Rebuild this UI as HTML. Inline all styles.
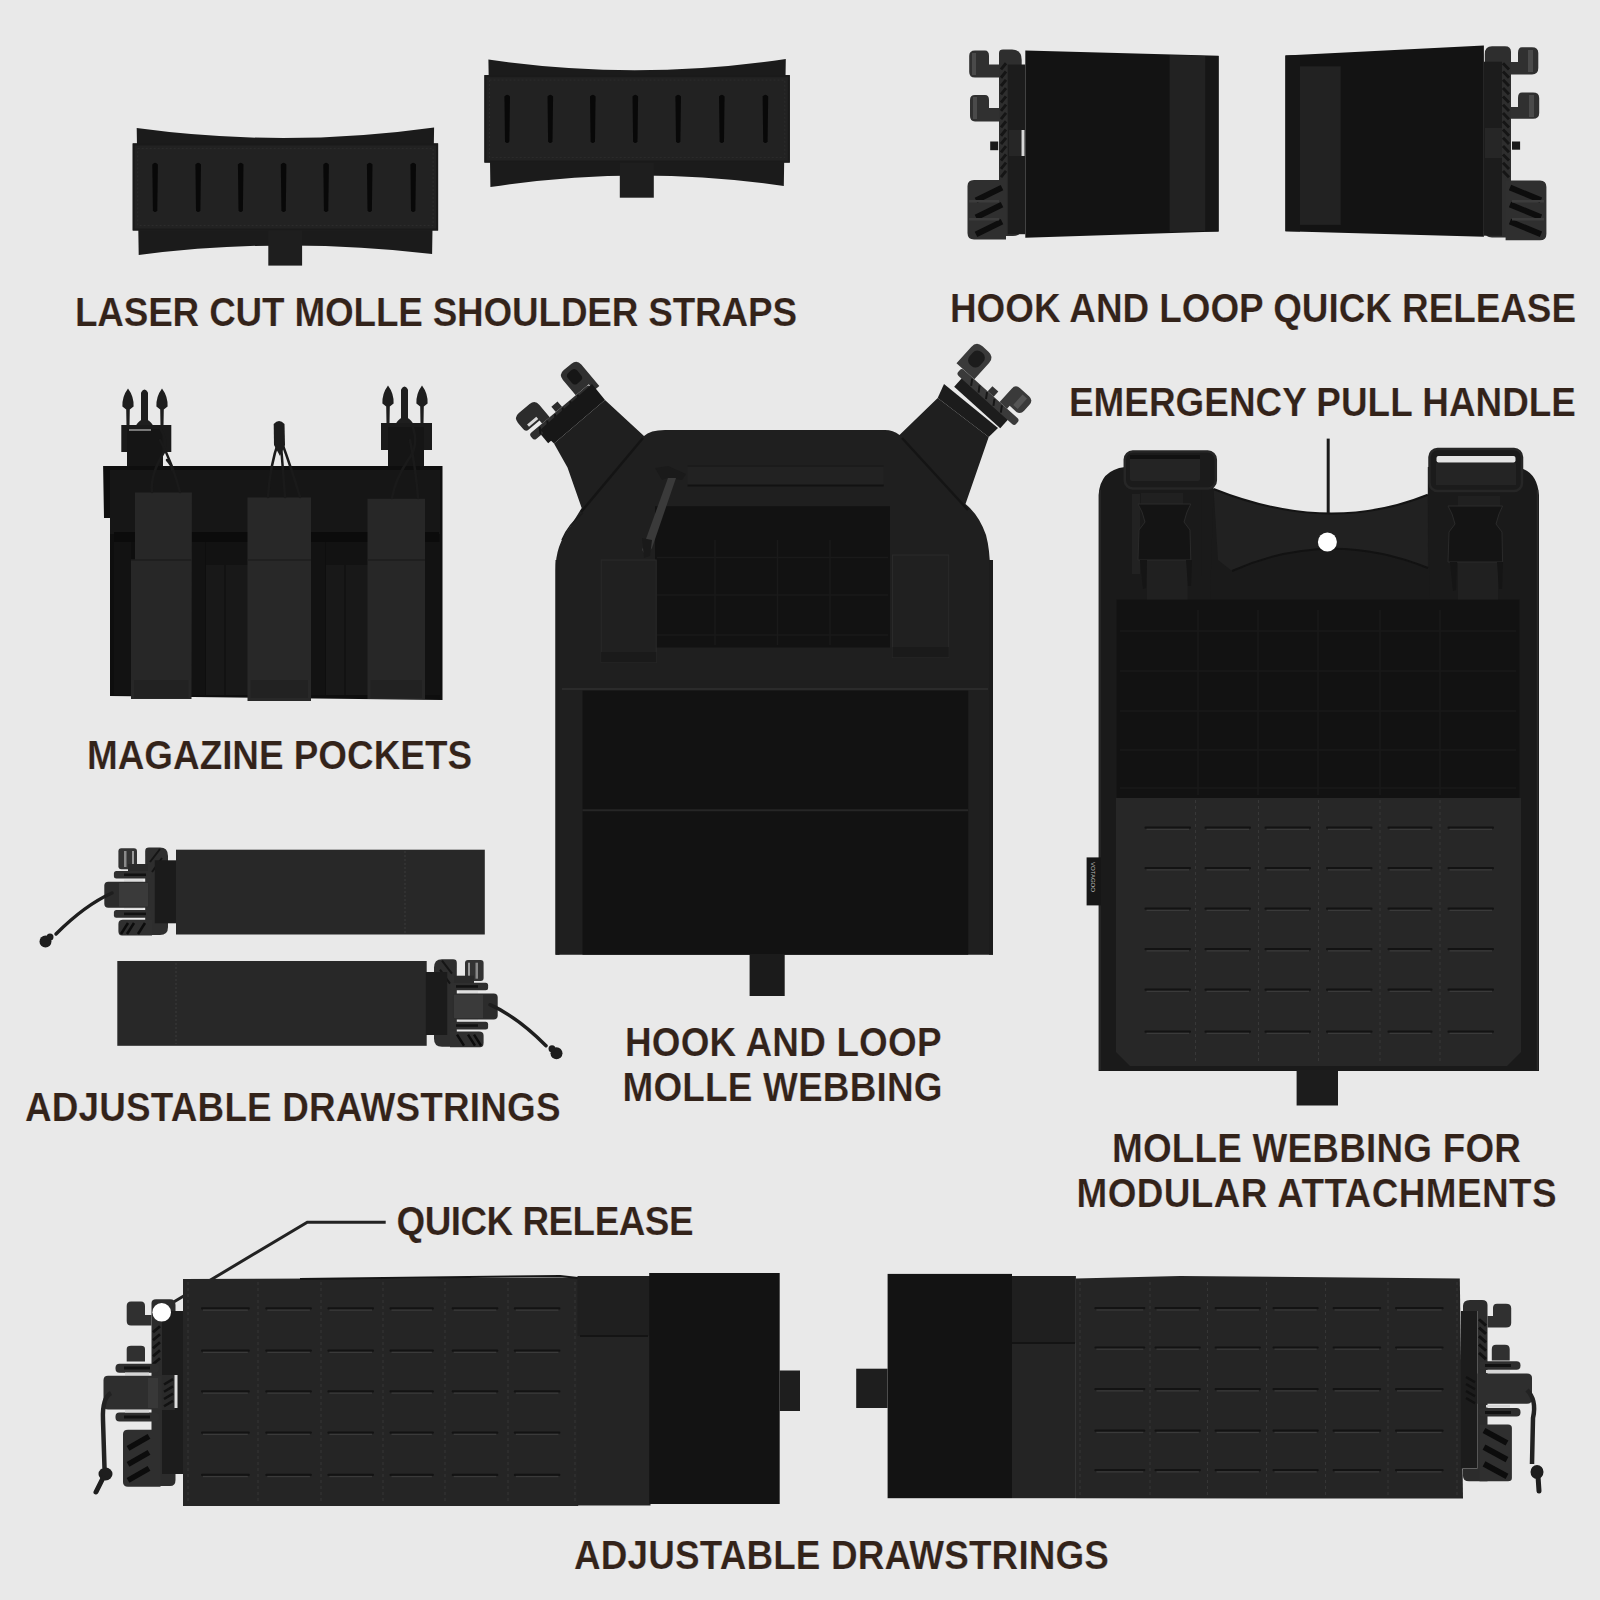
<!DOCTYPE html>
<html><head><meta charset="utf-8">
<style>
html,body{margin:0;padding:0;background:#e9e9e9;}
body{width:1600px;height:1600px;overflow:hidden;position:relative;}
svg{position:absolute;left:0;top:0;}
.t{font-family:"Liberation Sans",sans-serif;font-weight:bold;font-size:41px;fill:#33231a;stroke:#e9e9e9;stroke-width:0.2px;}
</style></head><body>
<svg width="1600" height="1600" viewBox="0 0 1600 1600">
<defs>
<g id="qrbuck">
</g>
</defs>
<path d="M136.7,128 Q285.4,148.3 434.09999999999997,127.4 L432.09999999999997,253.9 Q285.4,236.35000000000002 138.7,255 Z" fill="#1b1b1b"/>
<rect x="268.3" y="228.5" width="33.80000000000001" height="37.10000000000002" fill="#1e1e1e"/>
<rect x="132.7" y="143.4" width="305.4" height="87.1" fill="#222222"/>
<rect x="133.7" y="144.4" width="303.4" height="85.1" fill="none" stroke="#1a1a1a" stroke-width="2"/>
<rect x="137.7" y="148.4" width="295.4" height="77.1" fill="none" stroke="#2c2c2c" stroke-width="1" stroke-dasharray="2,2"/>
<path d="M152.29999999999998,164.5 Q155.1,161.0 157.9,164.5 L157.29999999999998,210.4 Q155.1,213.4 152.9,210.4 Z" fill="#080808"/>
<path d="M195.39999999999998,164.5 Q198.2,161.0 201.0,164.5 L200.39999999999998,210.4 Q198.2,213.4 196.0,210.4 Z" fill="#080808"/>
<path d="M237.89999999999998,164.5 Q240.7,161.0 243.5,164.5 L242.89999999999998,210.4 Q240.7,213.4 238.5,210.4 Z" fill="#080808"/>
<path d="M280.8,164.5 Q283.6,161.0 286.40000000000003,164.5 L285.8,210.4 Q283.6,213.4 281.40000000000003,210.4 Z" fill="#080808"/>
<path d="M323.3,164.5 Q326.1,161.0 328.90000000000003,164.5 L328.3,210.4 Q326.1,213.4 323.90000000000003,210.4 Z" fill="#080808"/>
<path d="M366.9,164.5 Q369.7,161.0 372.5,164.5 L371.9,210.4 Q369.7,213.4 367.5,210.4 Z" fill="#080808"/>
<path d="M410.4,164.5 Q413.2,161.0 416.0,164.5 L415.4,210.4 Q413.2,213.4 411.0,210.4 Z" fill="#080808"/>
<path d="M488.4,59.6 Q637.0999999999999,81.15 785.8,58.9 L783.8,186 Q637.0999999999999,164.25 490.4,187.1 Z" fill="#1b1b1b"/>
<rect x="619.8" y="160.6" width="34.0" height="37.099999999999994" fill="#1e1e1e"/>
<rect x="484.4" y="75.1" width="305.4" height="87.5" fill="#222222"/>
<rect x="485.4" y="76.1" width="303.4" height="85.5" fill="none" stroke="#1a1a1a" stroke-width="2"/>
<rect x="489.4" y="80.1" width="295.4" height="77.5" fill="none" stroke="#2c2c2c" stroke-width="1" stroke-dasharray="2,2"/>
<path d="M504.4,96.6 Q507.2,93.1 510.0,96.6 L509.4,141.5 Q507.2,144.5 505.0,141.5 Z" fill="#080808"/>
<path d="M547.5,96.6 Q550.3,93.1 553.0999999999999,96.6 L552.5,141.5 Q550.3,144.5 548.0999999999999,141.5 Z" fill="#080808"/>
<path d="M590.0,96.6 Q592.8,93.1 595.5999999999999,96.6 L595.0,141.5 Q592.8,144.5 590.5999999999999,141.5 Z" fill="#080808"/>
<path d="M632.5,96.6 Q635.3,93.1 638.0999999999999,96.6 L637.5,141.5 Q635.3,144.5 633.0999999999999,141.5 Z" fill="#080808"/>
<path d="M675.4000000000001,96.6 Q678.2,93.1 681.0,96.6 L680.4000000000001,141.5 Q678.2,144.5 676.0,141.5 Z" fill="#080808"/>
<path d="M719.0,96.6 Q721.8,93.1 724.5999999999999,96.6 L724.0,141.5 Q721.8,144.5 719.5999999999999,141.5 Z" fill="#080808"/>
<path d="M762.6,96.6 Q765.4,93.1 768.1999999999999,96.6 L767.6,141.5 Q765.4,144.5 763.1999999999999,141.5 Z" fill="#080808"/>
<g id="qrL">
<path d="M1025.3,50.5 L1218.6,55.7 L1218.6,231.6 L1025.3,237.7 Z" fill="#131313"/>
<path d="M1169.6,55 L1205.5,56 L1205.5,231 L1169.6,232 Z" fill="#222"/>
<path d="M1205.5,56 L1218.6,56 L1218.6,231.6 L1205.5,231.6 Z" fill="#161616"/>
<path d="M999,53 Q999,49.6 1003,49.6 L1012,49.6 Q1021.7,49.6 1021.7,60 L1021.7,228 Q1021.7,236 1013,236 L999,236 Z" fill="#2e2e2e"/>
<path d="M1001,69.45714285714286 L1006,63.24285714285714 M1001,77.74285714285715 L1006,71.52857142857144 M1001,86.02857142857142 L1006,79.81428571428572 M1001,94.31428571428572 L1006,88.10000000000001 M1001,102.6 L1006,96.38571428571429 M1001,110.88571428571429 L1006,104.67142857142858 M1001,119.17142857142858 L1006,112.95714285714287 M1001,127.45714285714286 L1006,121.24285714285715 M1001,135.74285714285713 L1006,129.5285714285714 M1001,144.02857142857144 L1006,137.81428571428572 M1001,152.31428571428572 L1006,146.1 M1001,160.60000000000002 L1006,154.3857142857143 M1001,168.8857142857143 L1006,162.67142857142858 M1001,177.17142857142858 L1006,170.95714285714286 " stroke="#151515" stroke-width="2.90" fill="none"/>
<rect x="1007.7" y="64.5" width="17.6" height="169.7" fill="#1c1c1c"/>
<rect x="1009" y="130" width="12" height="26" fill="#262626"/>
<rect x="1021.5" y="130" width="3" height="26" fill="#d8d8d8"/>
<path d="M969.2,56 Q969.2,50.5 975,50.5 L985,50.5 Q989,50.5 989,56 L989,64.5 L999,64.5 L999,77.6 L975,77.6 Q969.2,77.6 969.2,72 Z" fill="#303030"/>
<rect x="972" y="53" width="4" height="22" fill="#4a4a4a"/>
<path d="M970,100 Q970,95 975,95 L985,95 Q989,95 989,100 L989,108 L999,108 L999,121.4 L975,121.4 Q970,121.4 970,116 Z" fill="#303030"/>
<rect x="973" y="97" width="4" height="22" fill="#4a4a4a"/>
<rect x="990.2" y="141.5" width="8" height="8.7" fill="#1a1a1a"/>
<path d="M967.5,186 Q967.5,180 974,180 L1006,180 L1006,239.5 L974,239.5 Q967.5,239.5 967.5,233 Z" fill="#2f2f2f"/>
<path d="M976,200.3 L1002,187.55 M976,217.3 L1002,204.55 M976,234.3 L1002,221.55 " stroke="#0d0d0d" stroke-width="5.95" fill="none"/>
<rect x="969" y="200" width="30" height="2.5" fill="#3c3c3c"/><rect x="969" y="218" width="30" height="2.5" fill="#3c3c3c"/>
</g>
<g id="qrR">
<path d="M1285.4,55.4 L1483.9,45.4 L1483.9,236.7 L1285.4,231.2 Z" fill="#131313"/>
<path d="M1285.4,55.4 L1300,55 L1300,231.5 L1285.4,231.2 Z" fill="#161616"/>
<rect x="1299.9" y="66.3" width="40.8" height="158.6" fill="#222"/>
<path d="M1511,52 Q1511,46.3 1505,46.3 L1492,46.3 Q1484.8,46.3 1484.8,54 L1484.8,230 Q1484.8,237.6 1492,237.6 L1511,237.6 Z" fill="#2e2e2e"/>
<path d="M1503,63.24285714285714 L1509,69.45714285714286 M1503,71.52857142857144 L1509,77.74285714285715 M1503,79.81428571428572 L1509,86.02857142857142 M1503,88.10000000000001 L1509,94.31428571428572 M1503,96.38571428571429 L1509,102.6 M1503,104.67142857142858 L1509,110.88571428571429 M1503,112.95714285714287 L1509,119.17142857142858 M1503,121.24285714285715 L1509,127.45714285714286 M1503,129.5285714285714 L1509,135.74285714285713 M1503,137.81428571428572 L1509,144.02857142857144 M1503,146.1 L1509,152.31428571428572 M1503,154.3857142857143 L1509,160.60000000000002 M1503,162.67142857142858 L1509,168.8857142857143 M1503,170.95714285714286 L1509,177.17142857142858 " stroke="#151515" stroke-width="2.90" fill="none"/>
<rect x="1483.9" y="61.7" width="18.1" height="174" fill="#1c1c1c"/>
<rect x="1485" y="128" width="17" height="30" fill="#262626"/>
<path d="M1538.3,53 Q1538.3,47.2 1532,47.2 L1522,47.2 Q1518,47.2 1518,53 L1518,62 L1511,62 L1511,74.4 L1532,74.4 Q1538.3,74.4 1538.3,68 Z" fill="#303030"/>
<rect x="1528" y="50" width="5" height="22" fill="#4a4a4a"/>
<path d="M1539.2,98 Q1539.2,92.6 1533,92.6 L1522,92.6 Q1518,92.6 1518,98 L1518,107 L1511,107 L1511,118.8 L1533,118.8 Q1539.2,118.8 1539.2,113 Z" fill="#303030"/>
<rect x="1529" y="95" width="5" height="22" fill="#4a4a4a"/>
<rect x="1512" y="141.5" width="8.1" height="8.2" fill="#1a1a1a"/>
<path d="M1505.6,180.5 L1540,180.5 Q1546.4,180.5 1546.4,187 L1546.4,234 Q1546.4,240.3 1540,240.3 L1505.6,240.3 Z" fill="#2f2f2f"/>
<path d="M1510,187.55 L1541,200.3 M1510,204.55 L1541,217.3 M1510,221.55 L1541,234.3 " stroke="#0d0d0d" stroke-width="5.95" fill="none"/>
<rect x="1512" y="200" width="32" height="2.5" fill="#3c3c3c"/><rect x="1512" y="218" width="32" height="2.5" fill="#3c3c3c"/>
</g>
<g id="mag">
<path d="M141.0,426 L141.0,392.5 Q144.5,386.5 148.0,392.5 L148.0,426 Z" fill="#1e1e1e"/><path d="M135.5,426 Q144.5,412 153.5,426 Z" fill="#1e1e1e"/><path d="M128.0,388.5 Q134.0,396.5 133.6,406.5 L129.8,409.5 L129.5,426 L126.5,426 L126.2,409.5 L122.4,406.5 Q122.0,396.5 128.0,388.5 Z" fill="#1e1e1e"/><path d="M162.0,388.5 Q168.0,396.5 167.6,406.5 L163.8,409.5 L163.5,426 L160.5,426 L160.2,409.5 L156.4,406.5 Q156.0,396.5 162.0,388.5 Z" fill="#1e1e1e"/>
<path d="M401.0,424 L401.0,389.5 Q404.5,383.5 408.0,389.5 L408.0,424 Z" fill="#1e1e1e"/><path d="M395.5,424 Q404.5,410 413.5,424 Z" fill="#1e1e1e"/><path d="M388.0,385.5 Q394.0,393.5 393.6,403.5 L389.8,406.5 L389.5,424 L386.5,424 L386.2,406.5 L382.4,403.5 Q382.0,393.5 388.0,385.5 Z" fill="#1e1e1e"/><path d="M422.0,385.5 Q428.0,393.5 427.6,403.5 L423.8,406.5 L423.5,424 L420.5,424 L420.2,406.5 L416.4,403.5 Q416.0,393.5 422.0,385.5 Z" fill="#1e1e1e"/>
<path d="M121.3,425 L171.3,425 L171.3,452 L163,452 L163,466 L127,466 L127,452 L121.3,452 Z" fill="#1a1a1a"/>
<rect x="127" y="429" width="35.5" height="37.2" fill="#151515"/>
<rect x="129" y="429" width="22" height="2" fill="#bbb" opacity="0.6"/>
<path d="M381,423 L432,423 L432,450 L424,450 L424,466 L388,466 L388,450 L381,450 Z" fill="#1a1a1a"/>
<rect x="388" y="427" width="36" height="39" fill="#151515"/>
<path d="M103.1,466 L442.5,466 L442.5,700 L110,696 L110,518 L104,518 Z" fill="#0e0e0e"/>
<rect x="110" y="470" width="330" height="64" fill="#161616"/>
<rect x="114" y="532" width="325" height="10" fill="#0b0b0b"/>
<rect x="114" y="542" width="17" height="153" fill="#121212"/>
<rect x="191" y="542" width="14" height="153" fill="#121212"/>
<rect x="206" y="542" width="42" height="153" fill="#121212"/>
<rect x="311" y="542" width="14" height="153" fill="#121212"/>
<rect x="326" y="542" width="42" height="153" fill="#121212"/>
<rect x="425" y="542" width="15" height="153" fill="#121212"/>
<rect x="206" y="565" width="18" height="130" fill="#181818"/>
<rect x="226" y="565" width="22" height="130" fill="#181818"/>
<rect x="326" y="565" width="18" height="130" fill="#181818"/>
<rect x="346" y="565" width="22" height="130" fill="#181818"/>
<path d="M135,492.5 L191.9,492.5 L191.5,699 L131,699 L131,560 L135,560 Z" fill="#272727"/>
<path d="M247.5,497.5 L311,497.5 L311,701 L247.5,701 Z" fill="#282828"/>
<path d="M367.5,498.7 L425,498.7 L425,699 L367.5,699 Z" fill="#272727"/>
<line x1="131" y1="560" x2="191.5" y2="560" stroke="#1e1e1e" stroke-width="1.5"/>
<rect x="134" y="680" width="54.5" height="18" fill="#222"/>
<line x1="247.5" y1="560" x2="311" y2="560" stroke="#1e1e1e" stroke-width="1.5"/>
<rect x="250.5" y="680" width="57.5" height="18" fill="#222"/>
<line x1="367.5" y1="560" x2="425" y2="560" stroke="#1e1e1e" stroke-width="1.5"/>
<rect x="370.5" y="680" width="51.5" height="18" fill="#222"/>
<g stroke="#1a1a1a" stroke-width="2.5" fill="none" stroke-linecap="round">
<path d="M160,428 Q168,440 164,452 Q150,475 152,492"/><path d="M160,440 Q172,462 180,492"/><path d="M167,460 Q172,465 172,470"/>
<path d="M279,440 Q270,465 268,497"/><path d="M281,440 Q292,470 300,497"/><path d="M281,445 Q283,470 285,497"/>
<path d="M412,425 Q420,445 408,460 Q395,480 392,498"/><path d="M410,440 Q416,470 418,498"/>
</g>
<path d="M273.7,424 Q279,418 284.5,424 L285,445 L280,456 L274,445 Z" fill="#1c1c1c"/>
</g>
<g id="front">
<g transform="translate(561.5,412.5) rotate(-40)">
<rect x="-30" y="3" width="62" height="12" fill="#181818"/>
<rect x="-39" y="-4" width="78" height="8" rx="3" fill="#2e2e2e"/>
<path d="M-30,3 L-26,-3 M-20,3 L-16,-3 M-10,3 L-6,-3 M0,3 L4,-3 M10,3 L14,-3 M20,3 L24,-3" stroke="#141414" stroke-width="2"/>
<path d="M22,-4 L22,-24 Q22,-31 29,-31 L39,-31 Q46,-31 46,-24 L46,4 L39,4 L39,-4 Z" fill="#303030"/>
<rect x="27" y="-26" width="12" height="14" rx="4" fill="#161616"/>
<path d="M-12,-4 L-12,-20 Q-12,-27 -19,-27 L-33,-27 Q-40,-27 -40,-20 L-40,-12 Q-40,-8 -36,-8 L-22,-8 L-22,-4 Z" fill="#2c2c2c"/>
<rect x="-34" y="-13" width="12" height="3" fill="#d8d8d8"/>
<rect x="-4" y="-11" width="8" height="7" fill="#2a2a2a"/>
</g>
<g transform="translate(988,397) rotate(42)">
<rect x="-32" y="3" width="62" height="12" fill="#1c1c1c"/>
<rect x="-39" y="-4" width="78" height="8" rx="3" fill="#3a3a3a"/>
<path d="M-24,-3 L-20,3 M-14,-3 L-10,3 M-4,-3 L0,3 M6,-3 L10,3 M16,-3 L20,3" stroke="#161616" stroke-width="2"/>
<path d="M-46,-4 L-46,-26 Q-46,-34 -38,-34 L-30,-34 Q-22,-34 -22,-26 L-22,-4 Z" fill="#3a3a3a"/>
<rect x="-41" y="-29" width="14" height="17" rx="6" fill="#1c1c1c"/>
<path d="M12,-4 L12,-22 Q12,-28 18,-28 L30,-28 Q36,-28 36,-22 L36,-14 Q36,-8 30,-8 L22,-8 L22,-4 Z" fill="#3a3a3a"/>
<rect x="24" y="-25" width="6" height="14" fill="#555"/>
<rect x="-4" y="-11" width="8" height="7" fill="#333"/>
</g>
<path d="M555.5,954.7 L555.5,570 Q555.5,545 570,527 L581.7,508 L567.5,467.5 L554,443.5 L605,400 L644,436 Q650,430 665,430 L885,430 Q893,430 899.5,435 L937.7,398 L988.7,437 L965.5,504 Q979,515 986,535 Q990,550 990,570 L993,954.7 Z" fill="#1f1f1f"/>
<path d="M540,430 L592,384 L605,400 L554,443.5 Z" fill="#171717"/>
<path d="M944,384 L998,428 L988.7,437 L937.7,398 Z" fill="#1c1c1c"/>
<path d="M581,512 L643,438" stroke="#141414" stroke-width="2.5" fill="none"/>
<path d="M902,438 L968,510" stroke="#141414" stroke-width="2.5" fill="none"/>
<path d="M562,540 Q568,525 583,513" stroke="#1a1a1a" stroke-width="1.5" fill="none"/>
<rect x="687.5" y="465" width="196.2" height="21" fill="#222"/>
<line x1="687.5" y1="485.5" x2="883.7" y2="485.5" stroke="#121212" stroke-width="2"/>
<line x1="687.5" y1="466" x2="883.7" y2="466" stroke="#1a1a1a" stroke-width="1.5"/>
<rect x="655" y="506.2" width="235" height="141.3" fill="#121212"/>
<g stroke="#1a1a1a" stroke-width="1.5">
<line x1="657" y1="557.5" x2="888" y2="557.5"/>
<line x1="657" y1="595" x2="888" y2="595"/>
<line x1="657" y1="635" x2="888" y2="635"/>
<line x1="715" y1="540" x2="715" y2="645"/>
<line x1="777.5" y1="540" x2="777.5" y2="645"/>
<line x1="830" y1="540" x2="830" y2="645"/>
</g>
<rect x="601.2" y="560" width="55" height="102.5" fill="#202020" stroke="#2a2a2a" stroke-width="1"/>
<rect x="601.2" y="652" width="55" height="10.5" fill="#1a1a1a"/>
<rect x="892.5" y="555" width="56.2" height="102.5" fill="#202020" stroke="#2a2a2a" stroke-width="1"/>
<rect x="892.5" y="647" width="56.2" height="10.5" fill="#1a1a1a"/>
<path d="M655,468 L668,466 L686,474 L682,480 L668,478 L662,480 Z" fill="#1a1a1a"/>
<path d="M668,478 L676,478 L652,548 L646,556 L642,550 Z" fill="#3a3a3a"/>
<path d="M642,538 L652,540 L650,556 L644,558 Z" fill="#1a1a1a"/>
<line x1="562" y1="689" x2="988" y2="689" stroke="#303030" stroke-width="1.5"/>
<rect x="582.5" y="690.7" width="385.7" height="264" fill="#121212"/>
<line x1="582.5" y1="810.3" x2="968.2" y2="810.3" stroke="#262626" stroke-width="2"/>
<rect x="555.5" y="560" width="4" height="394.7" fill="#1c1c1c"/>
<rect x="989" y="560" width="4" height="394.7" fill="#1c1c1c"/>
<rect x="749.6" y="954" width="35.1" height="42" fill="#1b1b1b"/>
</g>
<g id="back">
<path d="M1098.6,1071 L1098.6,495 Q1100,470 1125,467 L1213.6,467 L1213.6,489 Q1328.6,535 1427.8,494.7 L1427.8,467 L1516,467 Q1537,470 1539,495 L1539,1071 Z" fill="#1a1a1a"/>
<path d="M1213.6,489 Q1328.6,535 1427.8,494.7 L1430,600 L1210,600 Z" fill="#1a1a1a"/>
<path d="M1213.6,489 Q1328.6,535 1427.8,494.7 L1428,568 Q1328.6,528 1232,571 L1218,560 Z" fill="#212121"/>
<path d="M1232,571 Q1328.6,528 1428,568" stroke="#121212" stroke-width="2" fill="none"/>
<path d="M1213.6,489 Q1328.6,535 1427.8,494.7" stroke="#141414" stroke-width="2" fill="none"/>
<rect x="1127" y="490" width="74.4" height="86" fill="#1a1a1a"/>
<rect x="1132" y="494" width="8" height="80" fill="#222"/>
<rect x="1124.8" y="451.5" width="91" height="37" rx="8" fill="#1b1b1b" stroke="#262626" stroke-width="2.5"/>
<rect x="1130" y="455" width="70" height="26" rx="2" fill="#242424"/>
<rect x="1130" y="455" width="70" height="4" fill="#111"/>
<rect x="1141" y="493" width="42" height="14" fill="#202020"/>
<rect x="1147" y="558" width="40.6" height="44" fill="#202020"/>
<path d="M1138,504 L1190.8,504 L1187,512 L1184,522 L1190,530 L1190.8,560 L1138,560 L1139,530 L1145,522 L1142,512 Z" fill="#141414" stroke="#2a2a2a" stroke-width="1"/>
<path d="M1140,560 L1147,560 L1146,588 L1143,589 Z M1186,560 L1192,560 L1191,586 L1188,586 Z" fill="#151515"/>
<rect x="1440" y="494" width="72" height="86" fill="#1a1a1a"/>
<rect x="1429.5" y="449" width="92.5" height="42" rx="8" fill="#1b1b1b" stroke="#262626" stroke-width="2.5"/>
<rect x="1436.5" y="455.9" width="79" height="6.5" rx="2" fill="#e4e4e4"/>
<rect x="1436" y="463" width="80" height="22" fill="#242424"/>
<rect x="1458" y="496" width="42" height="14" fill="#202020"/>
<rect x="1458" y="560" width="40" height="40" fill="#202020"/>
<path d="M1448,506 L1502.6,506 L1499,514 L1496,524 L1502,532 L1502.6,562 L1448,562 L1449,532 L1455,524 L1452,514 Z" fill="#141414" stroke="#2a2a2a" stroke-width="1"/>
<path d="M1450,562 L1457,562 L1456,590 L1453,591 Z M1497,562 L1503,562 L1502,589 L1499,589 Z" fill="#151515"/>
<line x1="1328.2" y1="438.6" x2="1328.2" y2="513.4" stroke="#1a1a1a" stroke-width="3"/>
<circle cx="1327.4" cy="542" r="9.5" fill="#ffffff"/>
<rect x="1116.5" y="599.6" width="403" height="198.6" fill="#121212"/>
<g stroke="#1a1a1a" stroke-width="1.5" fill="none">
<line x1="1120" y1="631" x2="1516" y2="631"/>
<line x1="1120" y1="671" x2="1516" y2="671"/>
<line x1="1120" y1="711" x2="1516" y2="711"/>
<line x1="1120" y1="750" x2="1516" y2="750"/>
<line x1="1120" y1="788" x2="1516" y2="788"/>
<line x1="1198" y1="610" x2="1198" y2="795"/>
<line x1="1258" y1="610" x2="1258" y2="795"/>
<line x1="1318" y1="610" x2="1318" y2="795"/>
<line x1="1380" y1="610" x2="1380" y2="795"/>
<line x1="1440" y1="610" x2="1440" y2="795"/>
</g>
<path d="M1116,798 L1521,798 L1521,1052 L1507,1066 L1130,1066 L1116,1052 Z" fill="#272727"/>
<g stroke="#383838" stroke-width="1" stroke-dasharray="3,3">
<line x1="1195.5" y1="800" x2="1195.5" y2="1064"/>
<line x1="1258.5" y1="800" x2="1258.5" y2="1064"/>
<line x1="1318.5" y1="800" x2="1318.5" y2="1064"/>
<line x1="1380" y1="800" x2="1380" y2="1064"/>
<line x1="1440" y1="800" x2="1440" y2="1064"/>
</g>
<g fill="#131313">
<rect x="1144.5" y="826.5" width="46.5" height="2.2" rx="1"/>
<rect x="1204.5" y="826.5" width="46.5" height="2.2" rx="1"/>
<rect x="1264.5" y="826.5" width="46.5" height="2.2" rx="1"/>
<rect x="1326" y="826.5" width="46.5" height="2.2" rx="1"/>
<rect x="1387.5" y="826.5" width="45.0" height="2.2" rx="1"/>
<rect x="1447.5" y="826.5" width="46.5" height="2.2" rx="1"/>
<rect x="1144.5" y="867.0" width="46.5" height="2.2" rx="1"/>
<rect x="1204.5" y="867.0" width="46.5" height="2.2" rx="1"/>
<rect x="1264.5" y="867.0" width="46.5" height="2.2" rx="1"/>
<rect x="1326" y="867.0" width="46.5" height="2.2" rx="1"/>
<rect x="1387.5" y="867.0" width="45.0" height="2.2" rx="1"/>
<rect x="1447.5" y="867.0" width="46.5" height="2.2" rx="1"/>
<rect x="1144.5" y="907.5" width="46.5" height="2.2" rx="1"/>
<rect x="1204.5" y="907.5" width="46.5" height="2.2" rx="1"/>
<rect x="1264.5" y="907.5" width="46.5" height="2.2" rx="1"/>
<rect x="1326" y="907.5" width="46.5" height="2.2" rx="1"/>
<rect x="1387.5" y="907.5" width="45.0" height="2.2" rx="1"/>
<rect x="1447.5" y="907.5" width="46.5" height="2.2" rx="1"/>
<rect x="1144.5" y="948.0" width="46.5" height="2.2" rx="1"/>
<rect x="1204.5" y="948.0" width="46.5" height="2.2" rx="1"/>
<rect x="1264.5" y="948.0" width="46.5" height="2.2" rx="1"/>
<rect x="1326" y="948.0" width="46.5" height="2.2" rx="1"/>
<rect x="1387.5" y="948.0" width="45.0" height="2.2" rx="1"/>
<rect x="1447.5" y="948.0" width="46.5" height="2.2" rx="1"/>
<rect x="1144.5" y="988.5" width="46.5" height="2.2" rx="1"/>
<rect x="1204.5" y="988.5" width="46.5" height="2.2" rx="1"/>
<rect x="1264.5" y="988.5" width="46.5" height="2.2" rx="1"/>
<rect x="1326" y="988.5" width="46.5" height="2.2" rx="1"/>
<rect x="1387.5" y="988.5" width="45.0" height="2.2" rx="1"/>
<rect x="1447.5" y="988.5" width="46.5" height="2.2" rx="1"/>
<rect x="1144.5" y="1030.5" width="46.5" height="2.2" rx="1"/>
<rect x="1204.5" y="1030.5" width="46.5" height="2.2" rx="1"/>
<rect x="1264.5" y="1030.5" width="46.5" height="2.2" rx="1"/>
<rect x="1326" y="1030.5" width="46.5" height="2.2" rx="1"/>
<rect x="1387.5" y="1030.5" width="45.0" height="2.2" rx="1"/>
<rect x="1447.5" y="1030.5" width="46.5" height="2.2" rx="1"/>
</g>
<g fill="#3a3a3a">
<rect x="1146.5" y="828.7" width="42.5" height="1.3"/>
<rect x="1206.5" y="828.7" width="42.5" height="1.3"/>
<rect x="1266.5" y="828.7" width="42.5" height="1.3"/>
<rect x="1328" y="828.7" width="42.5" height="1.3"/>
<rect x="1389.5" y="828.7" width="41.0" height="1.3"/>
<rect x="1449.5" y="828.7" width="42.5" height="1.3"/>
<rect x="1146.5" y="869.2" width="42.5" height="1.3"/>
<rect x="1206.5" y="869.2" width="42.5" height="1.3"/>
<rect x="1266.5" y="869.2" width="42.5" height="1.3"/>
<rect x="1328" y="869.2" width="42.5" height="1.3"/>
<rect x="1389.5" y="869.2" width="41.0" height="1.3"/>
<rect x="1449.5" y="869.2" width="42.5" height="1.3"/>
<rect x="1146.5" y="909.7" width="42.5" height="1.3"/>
<rect x="1206.5" y="909.7" width="42.5" height="1.3"/>
<rect x="1266.5" y="909.7" width="42.5" height="1.3"/>
<rect x="1328" y="909.7" width="42.5" height="1.3"/>
<rect x="1389.5" y="909.7" width="41.0" height="1.3"/>
<rect x="1449.5" y="909.7" width="42.5" height="1.3"/>
<rect x="1146.5" y="950.2" width="42.5" height="1.3"/>
<rect x="1206.5" y="950.2" width="42.5" height="1.3"/>
<rect x="1266.5" y="950.2" width="42.5" height="1.3"/>
<rect x="1328" y="950.2" width="42.5" height="1.3"/>
<rect x="1389.5" y="950.2" width="41.0" height="1.3"/>
<rect x="1449.5" y="950.2" width="42.5" height="1.3"/>
<rect x="1146.5" y="990.7" width="42.5" height="1.3"/>
<rect x="1206.5" y="990.7" width="42.5" height="1.3"/>
<rect x="1266.5" y="990.7" width="42.5" height="1.3"/>
<rect x="1328" y="990.7" width="42.5" height="1.3"/>
<rect x="1389.5" y="990.7" width="41.0" height="1.3"/>
<rect x="1449.5" y="990.7" width="42.5" height="1.3"/>
<rect x="1146.5" y="1032.7" width="42.5" height="1.3"/>
<rect x="1206.5" y="1032.7" width="42.5" height="1.3"/>
<rect x="1266.5" y="1032.7" width="42.5" height="1.3"/>
<rect x="1328" y="1032.7" width="42.5" height="1.3"/>
<rect x="1389.5" y="1032.7" width="41.0" height="1.3"/>
<rect x="1449.5" y="1032.7" width="42.5" height="1.3"/>
</g>
<line x1="1100" y1="490" x2="1100" y2="1070" stroke="#2a2a2a" stroke-width="1.5"/>
<line x1="1537.5" y1="490" x2="1537.5" y2="1070" stroke="#2a2a2a" stroke-width="1.5"/>
<rect x="1296.6" y="1070" width="41.4" height="35.5" fill="#1c1c1c"/>
<rect x="1086.6" y="857.4" width="14.4" height="48" fill="#161616"/>
<text x="0" y="0" transform="translate(1091,862) rotate(90)" font-family="Liberation Sans" font-size="6" fill="#bbb">VOTAGOO</text>
</g>
<g id="draw">
<g id="dbA">
<path d="M145.2,851 Q145.2,847.6 149,847.6 L160,847.6 Q168,847.6 168,856 L168,927 Q168,935 160,935 L145.2,935 Z" fill="#2e2e2e"/>
<path d="M150,862 L160,849 M152,872 L162,858" stroke="#151515" stroke-width="2"/>
<rect x="154.8" y="860.3" width="21.4" height="63" fill="#1b1b1b"/>
<rect x="118.4" y="848.2" width="18.6" height="21" rx="3" fill="#333"/>
<rect x="124" y="851" width="2.5" height="16" fill="#8a8a8a"/><rect x="132" y="851" width="2" height="16" fill="#9a9a9a"/>
<rect x="128" y="864" width="20" height="8" fill="#2a2a2a"/>
<rect x="113.9" y="871" width="38" height="7.5" rx="2.5" fill="#2f2f2f"/>
<rect x="124" y="873.5" width="22" height="2.5" fill="#111"/>
<rect x="113.9" y="910.1" width="38" height="7.6" rx="2.5" fill="#2f2f2f"/>
<rect x="124" y="912.6" width="22" height="2.5" fill="#111"/>
<rect x="124" y="879.5" width="19" height="2.5" fill="#dcdcdc"/>
<rect x="124" y="906.5" width="19" height="2.5" fill="#dcdcdc"/>
<rect x="104.3" y="881.8" width="45" height="25.9" rx="4" fill="#2c2c2c"/>
<rect x="119" y="883" width="29" height="23.5" fill="#3a3a3a"/>
<path d="M118.4,924 Q118.4,919.8 123,919.8 L152,919.8 L152,935.6 L122,935.6 Q118.4,935.6 118.4,931 Z" fill="#303030"/>
<path d="M121,934 L128,923 M127,934 L134,923 M138,934 L145,923" stroke="#0c0c0c" stroke-width="2.5"/>
<path d="M112,893 Q85,905 56,934" stroke="#1e1e1e" stroke-width="3.5" fill="none" stroke-linecap="round"/>
<circle cx="45.5" cy="941.5" r="6" fill="#1e1e1e"/><circle cx="50" cy="937" r="3.5" fill="#1e1e1e"/>
</g>
<rect x="176" y="849.7" width="308.8" height="84.8" fill="#282828"/>
<line x1="405" y1="851" x2="405" y2="933" stroke="#3a3a3a" stroke-width="1" stroke-dasharray="2,2"/>
<rect x="117.3" y="961" width="309.4" height="84.8" fill="#282828"/>
<line x1="176" y1="963" x2="176" y2="1044" stroke="#3a3a3a" stroke-width="1" stroke-dasharray="2,2"/>
<use href="#dbA" transform="translate(602,111.7) scale(-1,1)"/>
</g>
<polyline points="172,1303 307.3,1222.2 385.7,1222.2" fill="none" stroke="#222" stroke-width="3"/>
<g id="cumL">
<rect x="162" y="1311" width="21" height="163" fill="#1c1c1c"/>
<path d="M151.5,1303 Q151.5,1299.2 156,1299.2 L170,1299.2 Q175.5,1299.2 175.5,1305 L175.5,1311 L162,1311 L162,1474 L175.5,1474 L175.5,1480 Q175.5,1486 170,1486 L151.5,1486 Z" fill="#2c2c2c"/>
<path d="M153,1332.2 L160,1326.2 M153,1340.2 L160,1334.2 M153,1348.2 L160,1342.2 M153,1356.2 L160,1350.2 M153,1364.2 L160,1358.2 " stroke="#111" stroke-width="2.80" fill="none"/>
<path d="M163,1384.75 L174,1379.125 M163,1392.25 L174,1386.625 M163,1399.75 L174,1394.125 M163,1407.25 L174,1401.625 " stroke="#111" stroke-width="2.62" fill="none"/>
<rect x="162" y="1375" width="13" height="35" fill="#2a2a2a"/>
<path d="M164,1384.525 L173,1379.0875 M164,1391.775 L173,1386.3375 M164,1399.025 L173,1393.5875 M164,1406.275 L173,1400.8375 " stroke="#121212" stroke-width="2.54" fill="none"/>
<rect x="174.5" y="1375" width="3" height="33" fill="#dedede"/>
<path d="M126.7,1306 Q126.7,1301.5 131,1301.5 L141,1301.5 Q145,1301.5 145,1306 L145,1315 L151.5,1315 L151.5,1325.5 L131,1325.5 Q126.7,1325.5 126.7,1321 Z" fill="#303030"/>
<path d="M126.7,1349 Q126.7,1345.7 131,1345.7 L141,1345.7 Q145,1345.7 145,1349 L145,1361.5 L126.7,1361.5 Z" fill="#303030"/>
<rect x="115.5" y="1363.7" width="43.5" height="9" rx="4" fill="#2e2e2e"/>
<rect x="124" y="1366.5" width="26" height="3" fill="#111"/>
<rect x="115.5" y="1412.5" width="43.5" height="9" rx="4" fill="#2e2e2e"/>
<rect x="124" y="1415.5" width="26" height="3" fill="#111"/>
<rect x="125" y="1372.5" width="24" height="3" fill="#d5d5d5"/><rect x="125" y="1410" width="24" height="2.5" fill="#d5d5d5"/>
<path d="M103.5,1380 Q103.5,1375.7 108,1375.7 L160.5,1375.7 L160.5,1409.5 L108,1409.5 Q103.5,1409.5 103.5,1405 Z" fill="#2e2e2e"/>
<rect x="148" y="1378" width="10" height="30" fill="#383838"/>
<path d="M123,1434 Q123,1429.7 128,1429.7 L160.5,1429.7 L160.5,1486.7 L128,1486.7 Q123,1486.7 123,1482 Z" fill="#2f2f2f"/>
<path d="M128,1448.4 L149,1436.4 M128,1464.4 L149,1452.4 M128,1480.4 L149,1468.4 " stroke="#0c0c0c" stroke-width="5.60" fill="none"/>
<path d="M111,1393 Q102,1398 103,1420 L104.5,1468" stroke="#222" stroke-width="4.5" fill="none"/>
<ellipse cx="105.5" cy="1474" rx="7" ry="6.5" fill="#1e1e1e"/>
<path d="M103,1478 L96,1492" stroke="#1e1e1e" stroke-width="5" fill="none" stroke-linecap="round"/>
<path d="M183,1279 L568,1277.5 L578.2,1278 L578.2,1506 L183,1506 Z" fill="#252525"/>
<path d="M300,1279 L560,1276 L578,1278" stroke="#151515" stroke-width="2" fill="none"/>
<g stroke="#363636" stroke-width="1" stroke-dasharray="3,3">
<line x1="258" y1="1282" x2="258" y2="1503"/>
<line x1="321" y1="1282" x2="321" y2="1503"/>
<line x1="383" y1="1282" x2="383" y2="1503"/>
<line x1="445" y1="1282" x2="445" y2="1503"/>
<line x1="508" y1="1282" x2="508" y2="1503"/>
<line x1="188" y1="1282" x2="188" y2="1503"/><line x1="575" y1="1282" x2="575" y2="1503"/>
</g>
<g fill="#131313">
<rect x="201" y="1307.3" width="48.80000000000001" height="2.2" rx="1"/>
<rect x="265.3" y="1307.3" width="46.599999999999966" height="2.2" rx="1"/>
<rect x="327.4" y="1307.3" width="46.60000000000002" height="2.2" rx="1"/>
<rect x="389.5" y="1307.3" width="44.39999999999998" height="2.2" rx="1"/>
<rect x="451.7" y="1307.3" width="46.60000000000002" height="2.2" rx="1"/>
<rect x="513.8" y="1307.3" width="46.60000000000002" height="2.2" rx="1"/>
<rect x="201" y="1349.5" width="48.80000000000001" height="2.2" rx="1"/>
<rect x="265.3" y="1349.5" width="46.599999999999966" height="2.2" rx="1"/>
<rect x="327.4" y="1349.5" width="46.60000000000002" height="2.2" rx="1"/>
<rect x="389.5" y="1349.5" width="44.39999999999998" height="2.2" rx="1"/>
<rect x="451.7" y="1349.5" width="46.60000000000002" height="2.2" rx="1"/>
<rect x="513.8" y="1349.5" width="46.60000000000002" height="2.2" rx="1"/>
<rect x="201" y="1390.3" width="48.80000000000001" height="2.2" rx="1"/>
<rect x="265.3" y="1390.3" width="46.599999999999966" height="2.2" rx="1"/>
<rect x="327.4" y="1390.3" width="46.60000000000002" height="2.2" rx="1"/>
<rect x="389.5" y="1390.3" width="44.39999999999998" height="2.2" rx="1"/>
<rect x="451.7" y="1390.3" width="46.60000000000002" height="2.2" rx="1"/>
<rect x="513.8" y="1390.3" width="46.60000000000002" height="2.2" rx="1"/>
<rect x="201" y="1431.5" width="48.80000000000001" height="2.2" rx="1"/>
<rect x="265.3" y="1431.5" width="46.599999999999966" height="2.2" rx="1"/>
<rect x="327.4" y="1431.5" width="46.60000000000002" height="2.2" rx="1"/>
<rect x="389.5" y="1431.5" width="44.39999999999998" height="2.2" rx="1"/>
<rect x="451.7" y="1431.5" width="46.60000000000002" height="2.2" rx="1"/>
<rect x="513.8" y="1431.5" width="46.60000000000002" height="2.2" rx="1"/>
<rect x="201" y="1473.7" width="48.80000000000001" height="2.2" rx="1"/>
<rect x="265.3" y="1473.7" width="46.599999999999966" height="2.2" rx="1"/>
<rect x="327.4" y="1473.7" width="46.60000000000002" height="2.2" rx="1"/>
<rect x="389.5" y="1473.7" width="44.39999999999998" height="2.2" rx="1"/>
<rect x="451.7" y="1473.7" width="46.60000000000002" height="2.2" rx="1"/>
<rect x="513.8" y="1473.7" width="46.60000000000002" height="2.2" rx="1"/>
</g>
<g fill="#3a3a3a">
<rect x="203" y="1309.5" width="44.80000000000001" height="1.3"/>
<rect x="267.3" y="1309.5" width="42.599999999999966" height="1.3"/>
<rect x="329.4" y="1309.5" width="42.60000000000002" height="1.3"/>
<rect x="391.5" y="1309.5" width="40.39999999999998" height="1.3"/>
<rect x="453.7" y="1309.5" width="42.60000000000002" height="1.3"/>
<rect x="515.8" y="1309.5" width="42.60000000000002" height="1.3"/>
<rect x="203" y="1351.7" width="44.80000000000001" height="1.3"/>
<rect x="267.3" y="1351.7" width="42.599999999999966" height="1.3"/>
<rect x="329.4" y="1351.7" width="42.60000000000002" height="1.3"/>
<rect x="391.5" y="1351.7" width="40.39999999999998" height="1.3"/>
<rect x="453.7" y="1351.7" width="42.60000000000002" height="1.3"/>
<rect x="515.8" y="1351.7" width="42.60000000000002" height="1.3"/>
<rect x="203" y="1392.5" width="44.80000000000001" height="1.3"/>
<rect x="267.3" y="1392.5" width="42.599999999999966" height="1.3"/>
<rect x="329.4" y="1392.5" width="42.60000000000002" height="1.3"/>
<rect x="391.5" y="1392.5" width="40.39999999999998" height="1.3"/>
<rect x="453.7" y="1392.5" width="42.60000000000002" height="1.3"/>
<rect x="515.8" y="1392.5" width="42.60000000000002" height="1.3"/>
<rect x="203" y="1433.7" width="44.80000000000001" height="1.3"/>
<rect x="267.3" y="1433.7" width="42.599999999999966" height="1.3"/>
<rect x="329.4" y="1433.7" width="42.60000000000002" height="1.3"/>
<rect x="391.5" y="1433.7" width="40.39999999999998" height="1.3"/>
<rect x="453.7" y="1433.7" width="42.60000000000002" height="1.3"/>
<rect x="515.8" y="1433.7" width="42.60000000000002" height="1.3"/>
<rect x="203" y="1475.9" width="44.80000000000001" height="1.3"/>
<rect x="267.3" y="1475.9" width="42.599999999999966" height="1.3"/>
<rect x="329.4" y="1475.9" width="42.60000000000002" height="1.3"/>
<rect x="391.5" y="1475.9" width="40.39999999999998" height="1.3"/>
<rect x="453.7" y="1475.9" width="42.60000000000002" height="1.3"/>
<rect x="515.8" y="1475.9" width="42.60000000000002" height="1.3"/>
</g>
<rect x="577.5" y="1276" width="73" height="60" fill="#1f1f1f"/>
<rect x="577.5" y="1336" width="73" height="169.5" fill="#242424"/>
<line x1="580" y1="1336" x2="648" y2="1336" stroke="#141414" stroke-width="2"/>
<rect x="649.2" y="1273" width="130.5" height="231" fill="#131313"/>
<rect x="779.7" y="1370.5" width="20.3" height="40.5" fill="#1e1e1e"/>
<circle cx="161.7" cy="1312.3" r="9.3" fill="#ffffff"/>
</g>
<g id="cumR">
<rect x="887.6" y="1273.9" width="124.4" height="224.3" fill="#131313"/>
<rect x="856.2" y="1368.7" width="31.4" height="39.3" fill="#1e1e1e"/>
<rect x="1012" y="1276" width="63.9" height="67" fill="#1f1f1f"/>
<rect x="1012" y="1343" width="63.9" height="155.2" fill="#242424"/>
<line x1="1012" y1="1343" x2="1075" y2="1343" stroke="#141414" stroke-width="2"/>
<path d="M1075.9,1278.5 L1180,1276 L1459.8,1278.5 L1463,1498.6 L1075.9,1498.2 Z" fill="#252525"/>
<g stroke="#363636" stroke-width="1" stroke-dasharray="3,3">
<line x1="1150" y1="1282" x2="1150" y2="1496"/>
<line x1="1207.5" y1="1282" x2="1207.5" y2="1496"/>
<line x1="1266.5" y1="1282" x2="1266.5" y2="1496"/>
<line x1="1325.5" y1="1282" x2="1325.5" y2="1496"/>
<line x1="1388" y1="1282" x2="1388" y2="1496"/>
<line x1="1080" y1="1282" x2="1080" y2="1496"/><line x1="1457" y1="1282" x2="1457" y2="1496"/>
</g>
<g fill="#131313">
<rect x="1094.4" y="1307.1" width="50.899999999999864" height="2.2" rx="1"/>
<rect x="1154.5" y="1307.1" width="46.299999999999955" height="2.2" rx="1"/>
<rect x="1214.6" y="1307.1" width="46.30000000000018" height="2.2" rx="1"/>
<rect x="1272.5" y="1307.1" width="46.200000000000045" height="2.2" rx="1"/>
<rect x="1332.6" y="1307.1" width="48.600000000000136" height="2.2" rx="1"/>
<rect x="1395" y="1307.1" width="48.59999999999991" height="2.2" rx="1"/>
<rect x="1094.4" y="1346.4" width="50.899999999999864" height="2.2" rx="1"/>
<rect x="1154.5" y="1346.4" width="46.299999999999955" height="2.2" rx="1"/>
<rect x="1214.6" y="1346.4" width="46.30000000000018" height="2.2" rx="1"/>
<rect x="1272.5" y="1346.4" width="46.200000000000045" height="2.2" rx="1"/>
<rect x="1332.6" y="1346.4" width="48.600000000000136" height="2.2" rx="1"/>
<rect x="1395" y="1346.4" width="48.59999999999991" height="2.2" rx="1"/>
<rect x="1094.4" y="1388.0" width="50.899999999999864" height="2.2" rx="1"/>
<rect x="1154.5" y="1388.0" width="46.299999999999955" height="2.2" rx="1"/>
<rect x="1214.6" y="1388.0" width="46.30000000000018" height="2.2" rx="1"/>
<rect x="1272.5" y="1388.0" width="46.200000000000045" height="2.2" rx="1"/>
<rect x="1332.6" y="1388.0" width="48.600000000000136" height="2.2" rx="1"/>
<rect x="1395" y="1388.0" width="48.59999999999991" height="2.2" rx="1"/>
<rect x="1094.4" y="1429.6" width="50.899999999999864" height="2.2" rx="1"/>
<rect x="1154.5" y="1429.6" width="46.299999999999955" height="2.2" rx="1"/>
<rect x="1214.6" y="1429.6" width="46.30000000000018" height="2.2" rx="1"/>
<rect x="1272.5" y="1429.6" width="46.200000000000045" height="2.2" rx="1"/>
<rect x="1332.6" y="1429.6" width="48.600000000000136" height="2.2" rx="1"/>
<rect x="1395" y="1429.6" width="48.59999999999991" height="2.2" rx="1"/>
<rect x="1094.4" y="1469.0" width="50.899999999999864" height="2.2" rx="1"/>
<rect x="1154.5" y="1469.0" width="46.299999999999955" height="2.2" rx="1"/>
<rect x="1214.6" y="1469.0" width="46.30000000000018" height="2.2" rx="1"/>
<rect x="1272.5" y="1469.0" width="46.200000000000045" height="2.2" rx="1"/>
<rect x="1332.6" y="1469.0" width="48.600000000000136" height="2.2" rx="1"/>
<rect x="1395" y="1469.0" width="48.59999999999991" height="2.2" rx="1"/>
</g>
<g fill="#3a3a3a">
<rect x="1096.4" y="1309.3" width="46.899999999999864" height="1.3"/>
<rect x="1156.5" y="1309.3" width="42.299999999999955" height="1.3"/>
<rect x="1216.6" y="1309.3" width="42.30000000000018" height="1.3"/>
<rect x="1274.5" y="1309.3" width="42.200000000000045" height="1.3"/>
<rect x="1334.6" y="1309.3" width="44.600000000000136" height="1.3"/>
<rect x="1397" y="1309.3" width="44.59999999999991" height="1.3"/>
<rect x="1096.4" y="1348.6000000000001" width="46.899999999999864" height="1.3"/>
<rect x="1156.5" y="1348.6000000000001" width="42.299999999999955" height="1.3"/>
<rect x="1216.6" y="1348.6000000000001" width="42.30000000000018" height="1.3"/>
<rect x="1274.5" y="1348.6000000000001" width="42.200000000000045" height="1.3"/>
<rect x="1334.6" y="1348.6000000000001" width="44.600000000000136" height="1.3"/>
<rect x="1397" y="1348.6000000000001" width="44.59999999999991" height="1.3"/>
<rect x="1096.4" y="1390.2" width="46.899999999999864" height="1.3"/>
<rect x="1156.5" y="1390.2" width="42.299999999999955" height="1.3"/>
<rect x="1216.6" y="1390.2" width="42.30000000000018" height="1.3"/>
<rect x="1274.5" y="1390.2" width="42.200000000000045" height="1.3"/>
<rect x="1334.6" y="1390.2" width="44.600000000000136" height="1.3"/>
<rect x="1397" y="1390.2" width="44.59999999999991" height="1.3"/>
<rect x="1096.4" y="1431.8" width="46.899999999999864" height="1.3"/>
<rect x="1156.5" y="1431.8" width="42.299999999999955" height="1.3"/>
<rect x="1216.6" y="1431.8" width="42.30000000000018" height="1.3"/>
<rect x="1274.5" y="1431.8" width="42.200000000000045" height="1.3"/>
<rect x="1334.6" y="1431.8" width="44.600000000000136" height="1.3"/>
<rect x="1397" y="1431.8" width="44.59999999999991" height="1.3"/>
<rect x="1096.4" y="1471.2" width="46.899999999999864" height="1.3"/>
<rect x="1156.5" y="1471.2" width="42.299999999999955" height="1.3"/>
<rect x="1216.6" y="1471.2" width="42.30000000000018" height="1.3"/>
<rect x="1274.5" y="1471.2" width="42.200000000000045" height="1.3"/>
<rect x="1334.6" y="1471.2" width="44.600000000000136" height="1.3"/>
<rect x="1397" y="1471.2" width="44.59999999999991" height="1.3"/>
</g>
<rect x="1460.9" y="1311" width="16.5" height="157.4" fill="#1c1c1c"/>
<path d="M1487.5,1305 Q1487.5,1300 1482,1300 L1470,1300 Q1463,1300 1463,1306 L1463,1311 L1477.4,1311 L1477.4,1468.4 L1463,1468.4 L1463,1476 Q1463,1481.3 1469,1481.3 L1487.5,1481.3 Z" fill="#2c2c2c"/>
<path d="M1479,1319.26 L1486,1325.56 M1479,1327.66 L1486,1333.96 M1479,1336.06 L1486,1342.36 M1479,1344.46 L1486,1350.76 M1479,1352.86 L1486,1359.1599999999999 " stroke="#111" stroke-width="2.94" fill="none"/>
<path d="M1466,1377.05 L1475,1382.3 M1466,1384.05 L1475,1389.3 M1466,1391.05 L1475,1396.3 M1466,1398.05 L1475,1403.3 " stroke="#111" stroke-width="2.45" fill="none"/>
<path d="M1511.2,1308 Q1511.2,1303.7 1506,1303.7 L1497,1303.7 Q1493,1303.7 1493,1308 L1493,1316 L1487.5,1316 L1487.5,1327.5 L1506,1327.5 Q1511.2,1327.5 1511.2,1323 Z" fill="#303030"/>
<path d="M1491.8,1349 Q1491.8,1344.7 1496,1344.7 L1505,1344.7 Q1509.7,1344.7 1509.7,1349 L1509.7,1360.5 L1491.8,1360.5 Z" fill="#303030"/>
<rect x="1478.8" y="1361.25" width="41.7" height="8.6" rx="4" fill="#2e2e2e"/>
<rect x="1485" y="1364" width="26" height="3" fill="#111"/>
<rect x="1478.8" y="1408" width="41.7" height="8.6" rx="4" fill="#2e2e2e"/>
<rect x="1485" y="1411" width="26" height="3" fill="#111"/>
<rect x="1486" y="1370" width="24" height="3" fill="#d5d5d5"/><rect x="1486" y="1405" width="24" height="2.5" fill="#d5d5d5"/>
<path d="M1477.4,1373.5 L1527,1373.5 Q1532,1373.5 1532,1378 L1532,1399 Q1532,1403.7 1527,1403.7 L1477.4,1403.7 Z" fill="#2e2e2e"/>
<path d="M1479.5,1424.5 L1508,1424.5 Q1511.9,1424.5 1511.9,1428 L1511.9,1478 Q1511.9,1481.3 1508,1481.3 L1479.5,1481.3 Z" fill="#2f2f2f"/>
<path d="M1484,1430.5 L1507,1443.0 M1484,1447.1666666666667 L1507,1459.6666666666667 M1484,1463.8333333333333 L1507,1476.3333333333333 " stroke="#0c0c0c" stroke-width="5.83" fill="none"/>
<path d="M1527,1390 Q1537,1400 1533,1418 L1532,1464" stroke="#222" stroke-width="4.5" fill="none"/>
<ellipse cx="1537" cy="1472" rx="6.5" ry="7" fill="#1e1e1e"/>
<path d="M1538,1476 L1539,1491" stroke="#1e1e1e" stroke-width="5" fill="none" stroke-linecap="round"/>
</g>
<g class="t">
<text transform="translate(75,325.9) scale(0.9,1)" x="0" y="0" textLength="802.22" lengthAdjust="spacing">LASER CUT MOLLE SHOULDER STRAPS</text>
<text transform="translate(950,322.4) scale(0.9,1)" x="0" y="0" textLength="695.56" lengthAdjust="spacing">HOOK AND LOOP QUICK RELEASE</text>
<text transform="translate(1069,415.9) scale(0.9,1)" x="0" y="0" textLength="563.33" lengthAdjust="spacing">EMERGENCY PULL HANDLE</text>
<text transform="translate(87,768.9) scale(0.9,1)" x="0" y="0" textLength="427.78" lengthAdjust="spacing">MAGAZINE POCKETS</text>
<text transform="translate(625,1055.9) scale(0.9,1)" x="0" y="0" textLength="351.67" lengthAdjust="spacing">HOOK AND LOOP</text>
<text transform="translate(622.5,1100.9) scale(0.9,1)" x="0" y="0" textLength="355.56" lengthAdjust="spacing">MOLLE WEBBING</text>
<text transform="translate(25,1120.9) scale(0.9,1)" x="0" y="0" textLength="595.00" lengthAdjust="spacing">ADJUSTABLE DRAWSTRINGS</text>
<text transform="translate(1112,1162.4) scale(0.9,1)" x="0" y="0" textLength="454.44" lengthAdjust="spacing">MOLLE WEBBING FOR</text>
<text transform="translate(1076.5,1206.9) scale(0.9,1)" x="0" y="0" textLength="533.33" lengthAdjust="spacing">MODULAR ATTACHMENTS</text>
<text transform="translate(396.5,1234.9) scale(0.9,1)" x="0" y="0" textLength="330.00" lengthAdjust="spacing">QUICK RELEASE</text>
<text transform="translate(574,1568.9) scale(0.9,1)" x="0" y="0" textLength="594.44" lengthAdjust="spacing">ADJUSTABLE DRAWSTRINGS</text>
</g>
</svg>
</body></html>
